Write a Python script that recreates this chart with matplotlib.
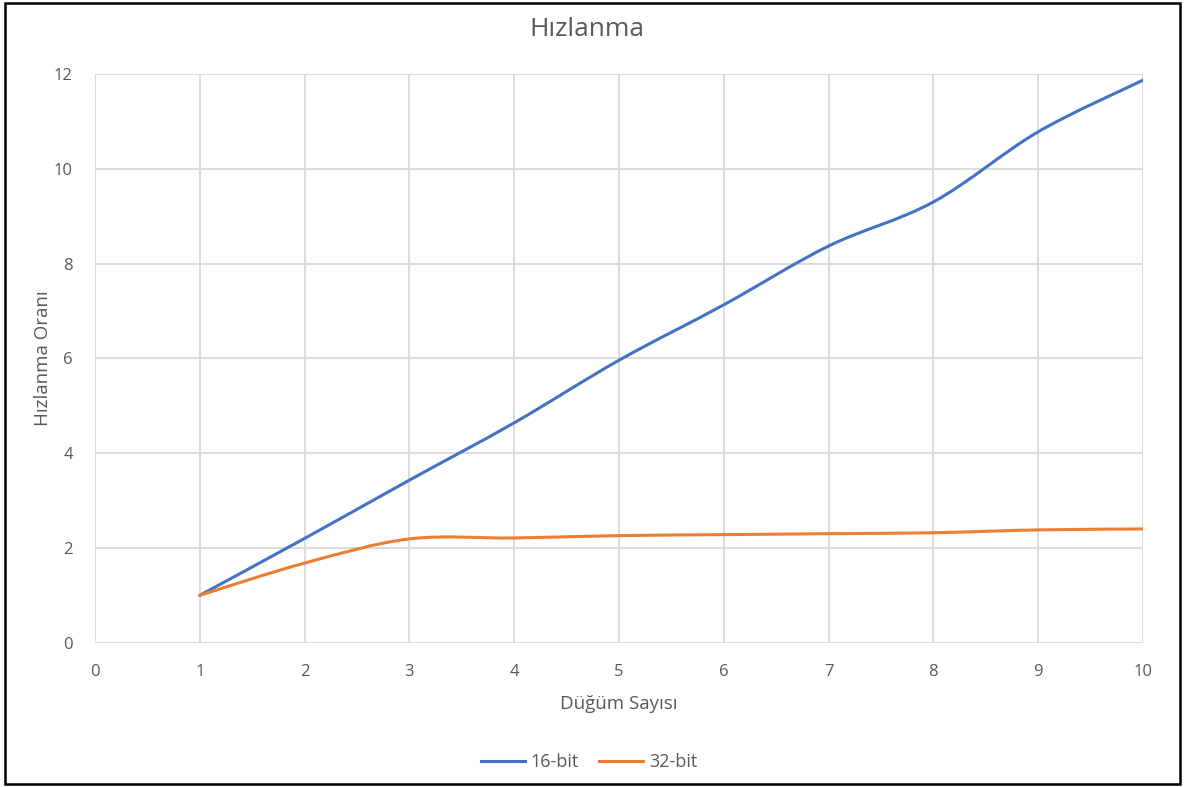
import matplotlib
matplotlib.use("Agg")
import matplotlib.pyplot as plt
import numpy as np
from matplotlib.path import Path
from matplotlib.patches import PathPatch, Rectangle
from matplotlib.lines import Line2D

# Data
nodes = [1, 2, 3, 4, 5, 6, 7, 8, 9, 10]
speedup_16 = [1.0, 2.2, 3.43, 4.64, 5.96, 7.13, 8.37, 9.30, 10.78, 11.87]
speedup_32 = [1.0, 1.68, 2.19, 2.21, 2.26, 2.28, 2.30, 2.32, 2.38, 2.40]
series_names = ["16-bit", "32-bit"]
series_colors = ["#4472C4", "#ED7D31"]
title = "Hızlanma"
xlabel = "Düğüm Sayısı"
ylabel = "Hızlanma Oranı"

plt.rcParams['font.family'] = ['Open Sans', 'DejaVu Sans']
txt_color = "#595959"
grid_color = "#D9D9D9"

fig = plt.figure(figsize=(11.84, 7.87), dpi=100)
ax = fig.add_axes([95/1184, 1-642.7/787, (1143-95)/1184, (642.7-74)/787])


def smooth_path(x, y):
    # Excel-style smoothed line: cubic Bezier segments (Catmull-Rom, tension 1/6)
    x = np.asarray(x, float)
    y = np.asarray(y, float)
    n = len(x)
    verts = [(x[0], y[0])]
    codes = [Path.MOVETO]
    for i in range(n - 1):
        i0 = max(i - 1, 0)
        i3 = min(i + 2, n - 1)
        c1 = (x[i] + (x[i+1] - x[i0]) / 6, y[i] + (y[i+1] - y[i0]) / 6)
        c2 = (x[i+1] - (x[i3] - x[i]) / 6, y[i+1] - (y[i3] - y[i]) / 6)
        verts += [c1, c2, (x[i+1], y[i+1])]
        codes += [Path.CURVE4, Path.CURVE4, Path.CURVE4]
    return Path(verts, codes)


handles = []
for vals, name, col in zip([speedup_16, speedup_32], series_names, series_colors):
    patch = PathPatch(smooth_path(nodes, vals), facecolor='none', edgecolor=col,
                      lw=2.2, capstyle='round', joinstyle='round', zorder=3)
    ax.add_patch(patch)
    handles.append(Line2D([], [], color=col, lw=2.2, label=name))

ax.set_xlim(0, 10)
ax.set_ylim(0, 12)
ax.set_xticks(range(0, 11))
ax.set_yticks(range(0, 13, 2))
ax.grid(True, color=grid_color, lw=1.3)
ax.set_axisbelow(True)
for s in ax.spines.values():
    s.set_visible(False)
ax.tick_params(length=0, labelsize=12, colors=txt_color)
ax.tick_params(axis='x', pad=15)
ax.tick_params(axis='y', pad=16)

ax.set_xlabel(xlabel, fontsize=13.5, color=txt_color, labelpad=11)
ax.set_ylabel(ylabel, fontsize=13.5, color=txt_color, labelpad=1)
fig.text(587/1184, 1-30/787, title, ha='center', va='center', fontsize=19, color=txt_color)

fig.legend(handles=handles, loc='center', bbox_to_anchor=(589/1184, 1-762/787),
           ncol=2, frameon=False, fontsize=13, labelcolor=txt_color,
           handlelength=2.45, handletextpad=0.33, columnspacing=1.1)

fig.add_artist(Rectangle((5/1184, 1-784/787), 1175/1184, 781/787, transform=fig.transFigure,
                         fill=False, edgecolor='black', lw=1.8))

fig.savefig("out.png", dpi=100, facecolor='white')
